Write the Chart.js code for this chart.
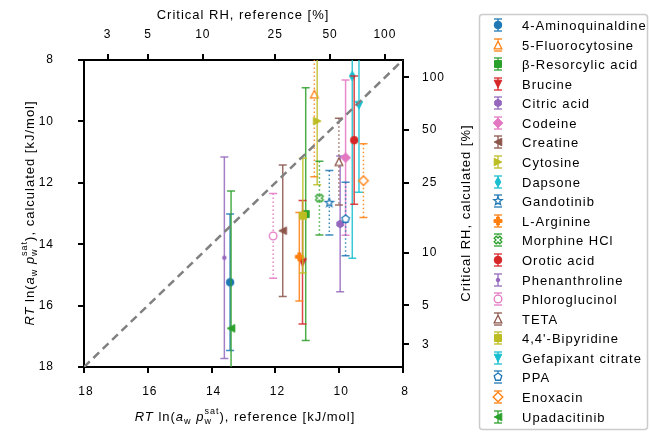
<!DOCTYPE html>
<html>
<head>
<meta charset="utf-8">
<title>Critical RH parity plot</title>
<script src="https://cdn.jsdelivr.net/npm/chart.js@4.4.1/dist/chart.umd.min.js"></script>
<style>
  html, body { margin: 0; padding: 0; background: #fff; }
  #wrap { width: 651px; height: 433px; }
</style>
</head>
<body>
<div id="wrap"><canvas id="rhChart" width="651" height="433"></canvas></div>
<script>
// compounds, in legend order
const compounds = [
  '4-Aminoquinaldine', '5-Fluorocytosine', 'β-Resorcylic acid', 'Brucine', 'Citric acid',
  'Codeine', 'Creatine', 'Cytosine', 'Dapsone', 'Gandotinib', 'L-Arginine', 'Morphine HCl',
  'Orotic acid', 'Phenanthroline', 'Phloroglucinol', 'TETA', "4,4'-Bipyridine",
  'Gefapixant citrate', 'PPA', 'Enoxacin', 'Upadacitinib'
];
// RT ln(a_w p_w^sat) in kJ/mol
const refEnergy  = [13.42, 10.78, 11.05, 11.15, 9.97, 9.80, 11.77, 10.69, 9.59, 10.31, 11.25,
                    10.62, 9.53, 13.60, 12.07, 10.01, 11.14, 9.38, 9.80, 9.24, 13.39];
const calcEnergy = [15.24, 9.11, 13.02, 14.59, 13.34, 11.18, 13.56, 9.99, 8.52, 12.65, 14.41,
                    12.50, 10.61, 14.44, 13.73, 11.31, 13.07, 9.47, 13.18, 11.93, 16.74];
const calcError  = [2.22, 2.69, 4.12, 2.01, 2.21, 2.53, 2.14, 2.07, 5.94, 1.05, 1.44,
                    1.20, 2.09, 3.28, 1.38, 1.41, 1.87, 2.84, 1.20, 1.20, 4.47];

const energyTicks = [8, 10, 12, 14, 16, 18];
const rhTicks = [3, 5, 10, 25, 50, 100];

// styling
const seriesColors = [
  '#1f77b4', '#ff7f0e', '#2ca02c', '#d62728', '#9467bd', '#e377c2', '#8c564b', '#bcbd22',
  '#17becf', '#1f77b4', '#ff7f0e', '#2ca02c', '#d62728', '#9467bd', '#e377c2', '#8c564b',
  '#bcbd22', '#17becf', '#1f77b4', '#ff7f0e', '#2ca02c'
];
const markerShapes = [
  'circle', 'triUp', 'square', 'triDown', 'hexagon', 'diamond', 'triLeft', 'triRight',
  'thinDiamond', 'star', 'plus', 'cross', 'circle', 'dot', 'circle', 'triUp', 'square',
  'triDown', 'pentagon', 'diamond', 'triLeft'
];
const openMarker = [0, 1, 0, 0, 0, 0, 0, 0, 0, 1, 0, 1, 0, 0, 1, 1, 0, 0, 1, 1, 0];
const dottedBars = [0, 1, 0, 0, 0, 0, 0, 0, 0, 1, 0, 1, 0, 0, 1, 1, 0, 0, 1, 1, 0];

const FONT = "'Liberation Sans', Arial, sans-serif";
Chart.defaults.font.family = FONT;
Chart.defaults.color = '#000';

// energy <-> critical RH (p_w^sat in mbar at 298 K)
const RT = 2.4789;
function rhToEnergy(rh) {
  return 8.567 - RT * Math.log(rh / 100);
}

function markerCanvas(shape, color, open) {
  const c = document.createElement('canvas');
  c.width = 18; c.height = 18;
  const g = c.getContext('2d');
  g.translate(9, 9);
  g.beginPath();
  const poly = pts => { pts.forEach((p, k) => k ? g.lineTo(p[0], p[1]) : g.moveTo(p[0], p[1])); g.closePath(); };
  const ngon = (n, r, inner) => {
    const pts = [];
    const m = inner ? n * 2 : n;
    for (let k = 0; k < m; k++) {
      const a = -Math.PI / 2 + k * 2 * Math.PI / m;
      const rr = inner && k % 2 ? inner : r;
      pts.push([rr * Math.cos(a), rr * Math.sin(a)]);
    }
    poly(pts);
  };
  const r = 3.8;
  switch (shape) {
    case 'circle': g.arc(0, 0, r, 0, Math.PI * 2); break;
    case 'dot': g.arc(0, 0, 1.8, 0, Math.PI * 2); break;
    case 'triUp': poly([[0, -r], [-r, r], [r, r]]); break;
    case 'triDown': poly([[0, r], [-r, -r], [r, -r]]); break;
    case 'triLeft': poly([[-r, 0], [r, -r], [r, r]]); break;
    case 'triRight': poly([[r, 0], [-r, -r], [-r, r]]); break;
    case 'square': g.rect(-3.5, -3.5, 7, 7); break;
    case 'diamond': poly([[0, -4.8], [4.8, 0], [0, 4.8], [-4.8, 0]]); break;
    case 'thinDiamond': poly([[0, -4.8], [2.9, 0], [0, 4.8], [-2.9, 0]]); break;
    case 'hexagon': ngon(6, 3.8); break;
    case 'pentagon': ngon(5, 4); break;
    case 'star': ngon(5, 4.4, 1.9); break;
    case 'plus':
    case 'cross': {
      const w = 1.4, L = 4;
      const pts = [[-w, -L], [w, -L], [w, -w], [L, -w], [L, w], [w, w], [w, L], [-w, L], [-w, w], [-L, w], [-L, -w], [-w, -w]];
      const a = shape === 'cross' ? Math.PI / 4 : 0;
      poly(pts.map(p => [p[0] * Math.cos(a) - p[1] * Math.sin(a), p[0] * Math.sin(a) + p[1] * Math.cos(a)]));
      break;
    }
  }
  g.fillStyle = open ? '#fff' : color;
  g.fill();
  g.lineWidth = open ? 1.3 : 1;
  g.strokeStyle = color;
  g.stroke();
  return c;
}

const markers = compounds.map((_, i) => markerCanvas(markerShapes[i], seriesColors[i], openMarker[i]));

function drawBar(ctx, x, y0, y1, color, dotted) {
  ctx.save();
  ctx.strokeStyle = color;
  ctx.globalAlpha = 0.85;
  ctx.lineWidth = 1.5;
  ctx.setLineDash(dotted ? [1.5, 2.5] : []);
  ctx.beginPath();
  ctx.moveTo(x, y0); ctx.lineTo(x, y1);
  ctx.stroke();
  ctx.setLineDash([]);
  ctx.beginPath();
  ctx.moveTo(x - 4, y0); ctx.lineTo(x + 4, y0);
  ctx.moveTo(x - 4, y1); ctx.lineTo(x + 4, y1);
  ctx.stroke();
  ctx.restore();
}

// vertical error bars, drawn just under each compound's marker
const errorBars = {
  id: 'errorBars',
  beforeDatasetDraw(chart, args) {
    const i = args.index;
    if (i >= compounds.length) return;
    const { ctx, chartArea: a, scales } = chart;
    const px = scales.x.getPixelForValue(refEnergy[i]);
    const y0 = scales.y.getPixelForValue(calcEnergy[i] - calcError[i]);
    const y1 = scales.y.getPixelForValue(calcEnergy[i] + calcError[i]);
    ctx.save();
    ctx.beginPath();
    ctx.rect(a.left, a.top, a.right - a.left, a.bottom - a.top);
    ctx.clip();
    drawBar(ctx, px, y0, y1, seriesColors[i], dottedBars[i]);
    ctx.restore();
  }
};

// wider glyph spacing for all canvas text
const spacing = {
  id: 'spacing',
  beforeUpdate(chart) { chart.ctx.letterSpacing = '1px'; },
  beforeDraw(chart) { chart.ctx.letterSpacing = '1px'; }
};

// text with italic symbols and sub/superscripts
function drawRich(ctx, parts, cx, cy, angle) {
  const big = 13, small = 9;
  const fontOf = (size, it) => (it ? 'italic ' : '') + size + 'px ' + FONT;
  let total = 0;
  const widths = parts.map(p => {
    let w;
    if (p.t !== undefined) { ctx.font = fontOf(big, p.it); w = ctx.measureText(p.t).width; }
    else {
      ctx.font = fontOf(small, false);
      w = Math.max(ctx.measureText(p.sub || '').width, ctx.measureText(p.sup || '').width);
    }
    total += w;
    return w;
  });
  ctx.save();
  ctx.translate(cx, cy);
  ctx.rotate(angle);
  ctx.fillStyle = '#000';
  ctx.textBaseline = 'alphabetic';
  ctx.textAlign = 'left';
  let x = -total / 2;
  const base = 4.6;
  parts.forEach((p, k) => {
    if (p.t !== undefined) {
      ctx.font = fontOf(big, p.it);
      ctx.fillText(p.t, x, base);
    } else {
      ctx.font = fontOf(small, false);
      if (p.sub) ctx.fillText(p.sub, x, base + 3.5);
      if (p.sup) ctx.fillText(p.sup, x, base - 7);
    }
    x += widths[k];
  });
  ctx.restore();
}

const energyTitle = word => [
  { t: 'RT', it: true }, { t: ' ln(' }, { t: 'a', it: true }, { sub: 'w' }, { t: ' ' },
  { t: 'p', it: true }, { sub: 'w', sup: 'sat' }, { t: '), ' + word + ' [kJ/mol]' }
];

const axisTitles = {
  id: 'axisTitles',
  afterDraw(chart) {
    const ctx = chart.ctx;
    ctx.letterSpacing = '1px';
    drawRich(ctx, energyTitle('reference'), 245, 416, 0);
    drawRich(ctx, energyTitle('calculated'), 29, 213, -Math.PI / 2);
    drawRich(ctx, [{ t: 'Critical RH, reference [%]' }], 243, 14, 0);
    drawRich(ctx, [{ t: 'Critical RH, calculated [%]' }], 465, 213, -Math.PI / 2);
  }
};

const legendBox = {
  id: 'legendBox',
  afterDraw(chart) {
    const ctx = chart.ctx;
    ctx.save();
    ctx.beginPath();
    ctx.roundRect(479.5, 14.5, 168, 415, 3);
    ctx.fillStyle = '#fff';
    ctx.fill();
    ctx.strokeStyle = '#cccccc';
    ctx.lineWidth = 1.5;
    ctx.stroke();
    ctx.font = '13px ' + FONT;
    ctx.letterSpacing = '1px';
    ctx.textBaseline = 'middle';
    ctx.textAlign = 'left';
    ctx.fillStyle = '#000';
    compounds.forEach((name, i) => {
      const cy = Math.round(25 + i * 19.58);
      drawBar(ctx, 498, cy - 6, cy + 6, seriesColors[i], dottedBars[i]);
      ctx.drawImage(markers[i], 498 - 9, cy - 9);
      ctx.fillText(name, 522, cy + 1);
    });
    ctx.restore();
  }
};

const datasets = compounds.map((name, i) => ({
  label: name,
  data: [{ x: refEnergy[i], y: calcEnergy[i] }],
  pointStyle: markers[i],
  pointRadius: 4,
  order: compounds.length - i
}));
// parity line
datasets.push({
  label: 'parity',
  data: [{ x: 18, y: 18 }, { x: 8, y: 8 }],
  showLine: true,
  borderColor: '#808080',
  borderWidth: 2.5,
  borderDash: [8, 5],
  pointRadius: 0,
  order: -1
});

const tickGrid = { drawOnChartArea: false, drawTicks: true, tickLength: 6, color: '#000', lineWidth: 2 };
const axisBorder = { display: true, color: '#000', width: 2 };
const energyAxis = (pos, pad, size) => ({
  type: 'linear', position: pos, min: 8, max: 18, reverse: true,
  grid: tickGrid, border: axisBorder,
  afterBuildTicks: s => { s.ticks = energyTicks.map(v => ({ value: v })); },
  ticks: { padding: pad, font: { size: 12 }, autoSkip: false, maxRotation: 0, labelOffset: pos === 'bottom' ? 2 : 0 },
  afterFit: s => { if (pos === 'bottom') s.height = size; else s.width = size; }
});
const rhAxis = (pos, pad, size) => ({
  type: 'linear', position: pos, min: 8, max: 18, reverse: true,
  grid: tickGrid, border: axisBorder,
  afterBuildTicks: s => { s.ticks = rhTicks.map(r => ({ value: rhToEnergy(r) })); },
  ticks: { padding: pad, font: { size: 12 }, autoSkip: false, maxRotation: 0, callback: (v, i) => rhTicks[i] },
  afterFit: s => { if (pos === 'top') s.height = size; else s.width = size; }
});

new Chart(document.getElementById('rhChart'), {
  type: 'scatter',
  data: { datasets },
  options: {
    responsive: false,
    animation: false,
    devicePixelRatio: 1,
    events: [],
    layout: { padding: 0 },
    plugins: { legend: { display: false }, tooltip: { enabled: false } },
    scales: {
      x: energyAxis('bottom', 11, 66),
      y: energyAxis('left', 24, 84),
      x2: rhAxis('top', 12, 60),
      y2: rhAxis('right', 13, 248)
    }
  },
  plugins: [spacing, errorBars, axisTitles, legendBox]
});
</script>
</body>
</html>
